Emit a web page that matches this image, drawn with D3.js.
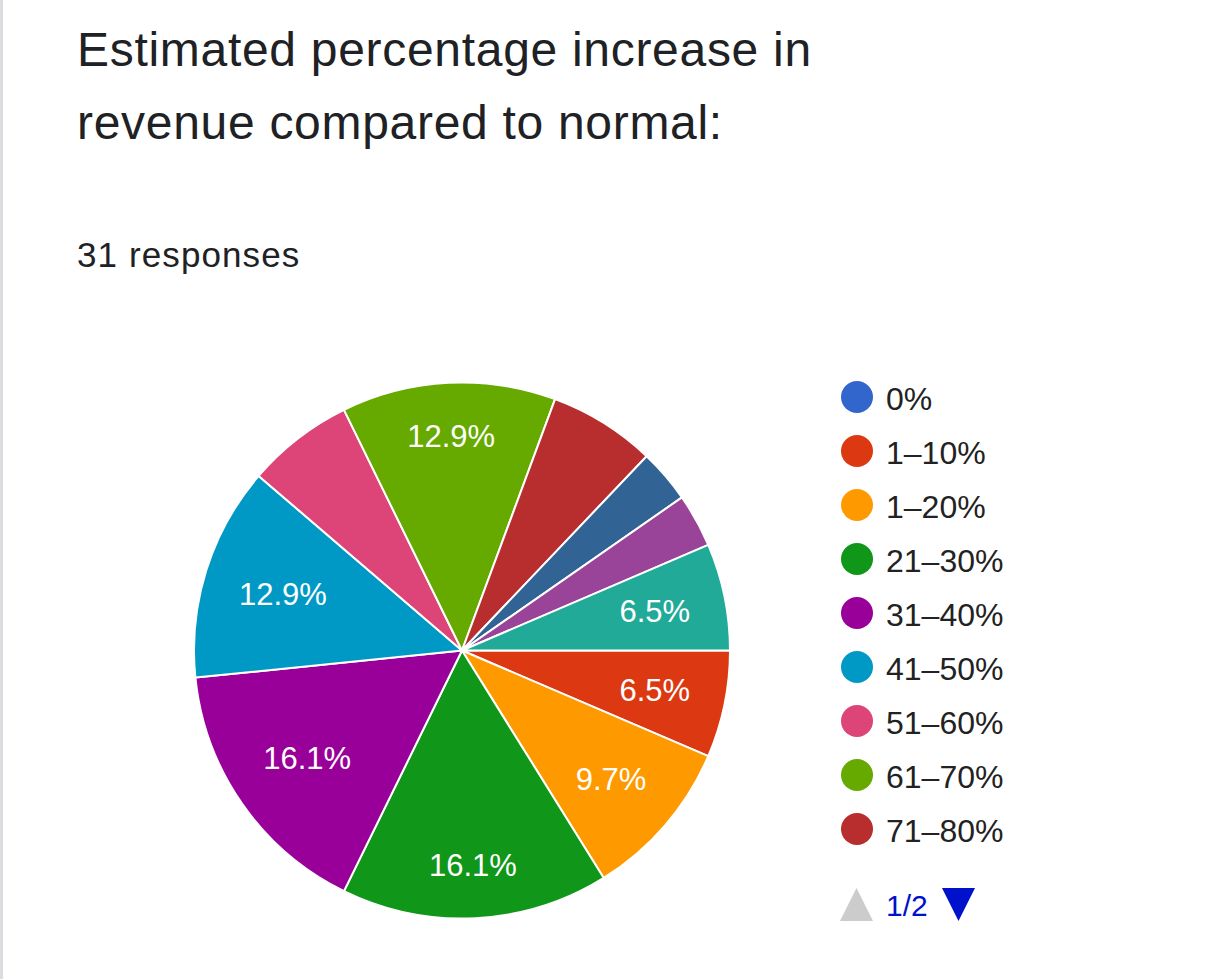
<!DOCTYPE html>
<html>
<head>
<meta charset="utf-8">
<script src="https://cdn.jsdelivr.net/npm/d3@7"></script>
<style>
  html, body { margin: 0; padding: 0; background: #fff; }
  body { width: 1220px; height: 979px; overflow: hidden; }
  svg { display: block; font-family: "Liberation Sans", Arial, Helvetica, sans-serif; }
</style>
</head>
<body>
<svg id="chart" width="1220" height="979"></svg>
<script>
// answers, in legend order (page 2 of the legend holds the last three)
var categories = ["0%", "1–10%", "1–20%", "21–30%", "31–40%", "41–50%", "51–60%", "61–70%", "71–80%", "81–90%", "91–100%", "Over 100%"];
var counts = [0, 2, 3, 5, 5, 4, 2, 4, 2, 1, 1, 2];
var colors = ["#3366cc", "#dc3912", "#ff9900", "#109618", "#990099", "#0099c6", "#dd4477", "#66aa00", "#b82e2e", "#316395", "#994499", "#22aa99"];
var titleLines = ["Estimated percentage increase in", "revenue compared to normal:"];
var legendPage = 1, legendPages = 2, legendPageSize = 9;

var total = d3.sum(counts);

var svg = d3.select("#chart");

// grey rule on the left edge of the card
svg.append("rect").attr("x", 0).attr("y", 0).attr("width", 3).attr("height", 979).attr("fill", "#dadce0");

// title + response count
svg.selectAll(".title").data(titleLines).enter().append("text")
  .attr("class", "title")
  .attr("x", 77)
  .attr("y", function (d, i) { return 66 + i * 73; })
  .style("font-size", "48px")
  .style("letter-spacing", "0.7px")
  .style("fill", "#202124")
  .text(function (d) { return d; });

svg.append("text")
  .attr("x", 77).attr("y", 267)
  .style("font-size", "35px")
  .style("letter-spacing", "1.1px")
  .style("fill", "#202124")
  .text(total + " responses");

// pie
var cx = 462, cy = 650.5, R = 268;
var data = categories.map(function (c, i) { return {name: c, value: counts[i], color: colors[i]}; });

var pie = d3.pie()
  .sort(null)
  .value(function (d) { return d.value; })
  .startAngle(Math.PI / 2)
  .endAngle(Math.PI / 2 + 2 * Math.PI);

var arc = d3.arc().innerRadius(0).outerRadius(R);
var arcs = pie(data).filter(function (d) { return d.value > 0; });

var g = svg.append("g").attr("transform", "translate(" + cx + "," + cy + ")");

g.selectAll("path.slice").data(arcs).enter().append("path")
  .attr("class", "slice")
  .attr("d", arc)
  .attr("fill", function (d) { return d.data.color; })
  .attr("stroke", "#fff")
  .attr("stroke-width", 2)
  .attr("stroke-linejoin", "round");

// slice labels: pushed outward until the text box touches a fixed ring,
// then dropped if the (padded) box does not sit inside its wedge
var fmt = d3.format(".1%");
var labelSize = 31, boxH = labelSize * 1.16, ring = R * 0.877, pad = 4;

var labels = g.selectAll("text.lbl").data(arcs).enter().append("text")
  .attr("class", "lbl")
  .style("font-size", labelSize + "px")
  .style("fill", "#fff")
  .attr("text-anchor", "middle")
  .attr("dy", "0.36em")
  .text(function (d) { return fmt(d.value / total); });

labels.each(function (d) {
  var w = this.getComputedTextLength();
  var mid = (d.startAngle + d.endAngle) / 2;
  var ux = Math.sin(mid), uy = -Math.cos(mid);
  var proj = Math.abs(ux) * w / 2 + Math.abs(uy) * boxH / 2;
  var r = ring - proj;
  var x = ux * r, y = uy * r;
  var half = (d.endAngle - d.startAngle) / 2;
  var hw = w / 2 + pad, hh = boxH / 2 + pad;
  var corners = [[x - hw, y - hh], [x + hw, y - hh], [x - hw, y + hh], [x + hw, y + hh]];
  var fits = corners.every(function (p) {
    var a = Math.atan2(p[0], -p[1]);
    var delta = a - mid;
    while (delta > Math.PI) delta -= 2 * Math.PI;
    while (delta < -Math.PI) delta += 2 * Math.PI;
    return Math.abs(delta) <= half && Math.hypot(p[0], p[1]) <= R;
  });
  d3.select(this).attr("x", x).attr("y", y).style("display", fits ? null : "none");
});

// legend, first page
var legendData = data.slice((legendPage - 1) * legendPageSize, legendPage * legendPageSize);
var legY = d3.scaleLinear().domain([0, 1]).range([397, 451]);

var leg = svg.selectAll("g.leg").data(legendData).enter().append("g")
  .attr("class", "leg")
  .attr("transform", function (d, i) { return "translate(857," + legY(i) + ")"; });

leg.append("circle").attr("r", 16).attr("fill", function (d) { return d.color; });
leg.append("text")
  .attr("x", 29).attr("y", 12.5)
  .style("font-size", "32px")
  .style("fill", "#222")
  .text(function (d) { return d.name; });

// pager
var pager = svg.append("g").attr("transform", "translate(0,904)");
pager.append("path").attr("d", "M840,17L873,17L856.5,-16Z").attr("fill", "#cccccc");
pager.append("text").attr("x", 886).attr("y", 12).style("font-size", "30px").style("fill", "#0011cc")
  .text(legendPage + "/" + legendPages);
pager.append("path").attr("d", "M942,-16L975,-16L958.5,17Z").attr("fill", "#0011cc");
</script>
</body>
</html>
